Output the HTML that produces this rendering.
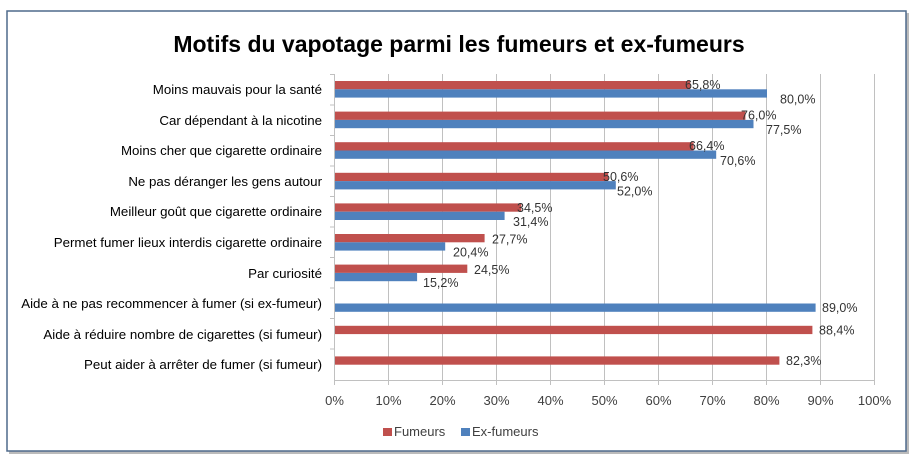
<!DOCTYPE html>
<html><head><meta charset="utf-8"><style>
body{margin:0;background:#fff;width:915px;height:468px;overflow:hidden}
svg{display:block;font-family:"Liberation Sans",sans-serif}
</style></head><body>
<svg width="915" height="468" xmlns="http://www.w3.org/2000/svg">
<rect x="9" y="13" width="900" height="441" fill="#bbb"/>
<rect x="7" y="11" width="899" height="440" fill="#fff" stroke="#4f6a8c" stroke-width="1.5"/>
<text x="459" y="52" text-anchor="middle" font-size="23" font-weight="bold" fill="#000">Motifs du vapotage parmi les fumeurs et ex-fumeurs</text>
<g stroke="#c0c0c0" stroke-width="1">
<line x1="388.5" y1="74" x2="388.5" y2="385"/><line x1="442.5" y1="74" x2="442.5" y2="385"/>
<line x1="496.5" y1="74" x2="496.5" y2="385"/><line x1="550.5" y1="74" x2="550.5" y2="385"/>
<line x1="604.5" y1="74" x2="604.5" y2="385"/><line x1="658.5" y1="74" x2="658.5" y2="385"/>
<line x1="712.5" y1="74" x2="712.5" y2="385"/><line x1="766.5" y1="74" x2="766.5" y2="385"/>
<line x1="820.5" y1="74" x2="820.5" y2="385"/><line x1="874.5" y1="74" x2="874.5" y2="385"/>
<line x1="334.5" y1="74" x2="334.5" y2="385"/>
<line x1="334" y1="380.5" x2="875" y2="380.5"/>
<line x1="330" y1="74.5" x2="335" y2="74.5"/><line x1="330" y1="105" x2="335" y2="105"/><line x1="330" y1="135.5" x2="335" y2="135.5"/><line x1="330" y1="166" x2="335" y2="166"/><line x1="330" y1="196.5" x2="335" y2="196.5"/><line x1="330" y1="227" x2="335" y2="227"/><line x1="330" y1="257.5" x2="335" y2="257.5"/><line x1="330" y1="288" x2="335" y2="288"/><line x1="330" y1="318.5" x2="335" y2="318.5"/><line x1="330" y1="349" x2="335" y2="349"/>
</g>
<g fill="#c0504d">
<rect x="335" y="81" width="355.3" height="8.3"/>
<rect x="335" y="111.6" width="410.4" height="8.3"/>
<rect x="335" y="142.2" width="358.6" height="8.3"/>
<rect x="335" y="172.8" width="273.2" height="8.3"/>
<rect x="335" y="203.4" width="186.3" height="8.3"/>
<rect x="335" y="234" width="149.6" height="8.3"/>
<rect x="335" y="264.6" width="132.3" height="8.3"/>
<rect x="335" y="325.8" width="477.4" height="8.3"/>
<rect x="335" y="356.4" width="444.4" height="8.3"/>
</g>
<g fill="#4f81bd">
<rect x="335" y="89.3" width="432" height="8.3"/>
<rect x="335" y="119.9" width="418.5" height="8.3"/>
<rect x="335" y="150.5" width="381.2" height="8.3"/>
<rect x="335" y="181.1" width="280.8" height="8.3"/>
<rect x="335" y="211.7" width="169.6" height="8.3"/>
<rect x="335" y="242.3" width="110.2" height="8.3"/>
<rect x="335" y="272.9" width="82.1" height="8.3"/>
<rect x="335" y="303.5" width="480.6" height="8.3"/>
</g>
<g font-size="12.5" fill="#333">
<text x="685" y="89">65,8%</text><text x="780" y="103.5">80,0%</text>
<text x="741" y="119.5">76,0%</text><text x="766" y="134">77,5%</text>
<text x="689" y="150">66,4%</text><text x="720" y="165">70,6%</text>
<text x="603" y="181">50,6%</text><text x="617" y="195.5">52,0%</text>
<text x="517" y="212">34,5%</text><text x="513" y="226">31,4%</text>
<text x="492" y="243.5">27,7%</text><text x="453" y="256.5">20,4%</text>
<text x="474" y="274">24,5%</text><text x="423" y="287">15,2%</text>
<text x="822" y="312">89,0%</text>
<text x="819" y="334.5">88,4%</text>
<text x="786" y="365">82,3%</text>
</g>
<g font-size="13.3" fill="#000" text-anchor="end">
<text x="322" y="94">Moins mauvais pour la santé</text>
<text x="322" y="125">Car dépendant à la nicotine</text>
<text x="322" y="155">Moins cher que cigarette ordinaire</text>
<text x="322" y="186">Ne pas déranger les gens autour</text>
<text x="322" y="216">Meilleur goût que cigarette ordinaire</text>
<text x="322" y="247">Permet fumer lieux interdis cigarette ordinaire</text>
<text x="322" y="278">Par curiosité</text>
<text x="322" y="308">Aide à ne pas recommencer à fumer (si ex-fumeur)</text>
<text x="322" y="339">Aide à réduire nombre de cigarettes (si fumeur)</text>
<text x="322" y="369">Peut aider à arrêter de fumer (si fumeur)</text>
</g>
<g font-size="13" fill="#404040" text-anchor="middle">
<text x="334.5" y="405">0%</text><text x="388.5" y="405">10%</text><text x="442.5" y="405">20%</text><text x="496.5" y="405">30%</text><text x="550.5" y="405">40%</text><text x="604.5" y="405">50%</text><text x="658.5" y="405">60%</text><text x="712.5" y="405">70%</text><text x="766.5" y="405">80%</text><text x="820.5" y="405">90%</text><text x="874.5" y="405">100%</text>
</g>
<rect x="383" y="428" width="9" height="8" fill="#c0504d"/>
<text x="394" y="436" font-size="13" fill="#404040">Fumeurs</text>
<rect x="461" y="428" width="9" height="8" fill="#4f81bd"/>
<text x="472" y="436" font-size="13" fill="#404040">Ex-fumeurs</text>
</svg>
</body></html>
